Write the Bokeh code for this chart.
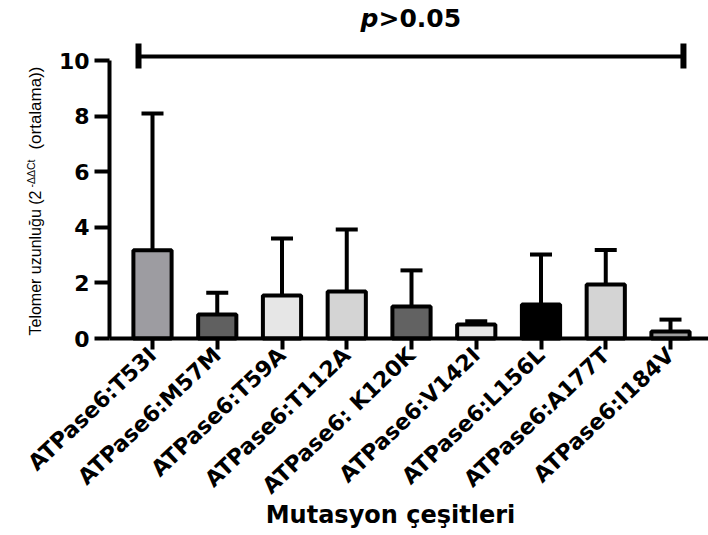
import math
from bokeh.plotting import figure
from bokeh.models import Range1d, FixedTicker, Label
from bokeh.embed import file_html
from bokeh.resources import INLINE

# ---- data ----
categories = ["ATPase6:T53I", "ATPase6:M57M", "ATPase6:T59A", "ATPase6:T112A",
              "ATPase6: K120K", "ATPase6:V142I", "ATPase6:L156L", "ATPase6:A177T",
              "ATPase6:I184V"]
means = [3.17, 0.86, 1.55, 1.69, 1.15, 0.50, 1.22, 1.94, 0.25]
upper = [8.09, 1.65, 3.60, 3.92, 2.45, 0.62, 3.02, 3.18, 0.68]
fills = ["#9d9ca1", "#606060", "#e6e6e6", "#d4d4d4", "#626262",
         "#e6e6e6", "#000000", "#d4d4d4", "#9d9d9d"]
y_ticks = [0, 2, 4, 6, 8, 10]
p_text = ">0.05"
x_title = "Mutasyon çeşitleri"
y_title_main = "Telomer uzunluğu (2"
y_title_sup = "-ΔΔCt"
y_title_end = "(ortalama))"

# ---- pixel geometry of the canvas ----
W, H = 708, 535
PX_PER_CAT = 64.75
PX_PER_Y = 27.8
FIRST_CENTER_PX = 152
BASE_PX = 338
AXIS_X_PX = 109

def dx(px):
    return (px - FIRST_CENTER_PX) / PX_PER_CAT

def dy(py):
    return (BASE_PX - py) / PX_PER_Y

xs = list(range(len(categories)))

p = figure(width=W, height=H, output_backend="svg", toolbar_location=None,
           x_range=Range1d(dx(0), dx(W)), y_range=Range1d(dy(H), dy(0)),
           min_border_left=0, min_border_right=0,
           min_border_top=0, min_border_bottom=0)
p.outline_line_color = None
p.xgrid.grid_line_color = None
p.ygrid.grid_line_color = None
p.background_fill_color = "white"
p.border_fill_color = "white"

# bars
p.vbar(x=xs, top=means, bottom=0, width=0.59, fill_color=fills,
       line_color="black", line_width=4)

# error bars (upper only)
p.segment(x0=xs, y0=means, x1=xs, y1=upper, line_color="black", line_width=4)
cap = 0.17
p.segment(x0=[x - cap for x in xs], y0=upper, x1=[x + cap for x in xs], y1=upper,
          line_color="black", line_width=4)

# significance bracket across all groups
bl, br = xs[0] - 0.216, xs[-1] + 0.2
by = 10.14
p.segment(x0=[bl], y0=[by], x1=[br], y1=[by], line_color="black", line_width=4)
p.segment(x0=[bl, br], y0=[by - 0.43, by - 0.43], x1=[bl, br], y1=[by + 0.47, by + 0.47],
          line_color="black", line_width=6)

# p-value text
split_x = dx(378)
p.add_layout(Label(x=split_x, y=dy(18), text="p", text_font="DejaVu Sans",
                   text_font_style="bold italic", text_font_size="25px",
                   text_align="right", text_baseline="middle", text_color="black"))
p.add_layout(Label(x=split_x, y=dy(18), text=p_text, text_font="DejaVu Sans",
                   text_font_style="bold", text_font_size="25px",
                   text_align="left", text_baseline="middle", text_color="black"))

# axes, drawn at fixed data locations
xa = p.xaxis[0]
xa.fixed_location = 0
xa.bounds = (dx(AXIS_X_PX), dx(W))
xa.ticker = FixedTicker(ticks=xs)
xa.major_label_overrides = {i: c for i, c in enumerate(categories)}
xa.major_label_orientation = 0.76
xa.major_label_text_font = "DejaVu Sans"
xa.major_label_text_font_style = "bold"
xa.major_label_text_font_size = "22px"
xa.major_label_text_color = "black"
xa.major_label_standoff = 2
xa.axis_line_width = 4
xa.axis_line_color = "black"
xa.major_tick_line_width = 4
xa.major_tick_out = 11
xa.major_tick_in = 0
xa.minor_tick_line_color = None

ya = p.yaxis[0]
ya.fixed_location = dx(AXIS_X_PX)
ya.ticker = FixedTicker(ticks=y_ticks)
ya.bounds = (0, 10)
ya.major_label_text_font = "DejaVu Sans"
ya.major_label_text_font_style = "bold"
ya.major_label_text_font_size = "22px"
ya.major_label_text_color = "black"
ya.major_label_standoff = 5
ya.axis_line_width = 4
ya.axis_line_color = "black"
ya.major_tick_line_width = 4
ya.major_tick_out = 15
ya.major_tick_in = 0
ya.minor_tick_line_color = None

# x-axis title
p.add_layout(Label(x=dx(390), y=dy(514), text=x_title, text_font="DejaVu Sans",
                   text_font_style="bold", text_font_size="24px",
                   text_align="center", text_baseline="middle", text_color="black"))

# y-axis title (rotated, with superscript)
yfont = "Liberation Sans"
p.add_layout(Label(x=dx(35), y=dy(335), text=y_title_main, angle=math.pi / 2,
                   text_font=yfont, text_font_size="16px", text_align="left",
                   text_baseline="middle", text_color="black"))
p.add_layout(Label(x=dx(30), y=dy(187), text=y_title_sup, angle=math.pi / 2,
                   text_font=yfont, text_font_size="10.5px", text_align="left",
                   text_baseline="middle", text_color="black"))
p.add_layout(Label(x=dx(35), y=dy(66), text=y_title_end, angle=math.pi / 2,
                   text_font=yfont, text_font_size="17px", text_align="right",
                   text_baseline="middle", text_color="black"))

open("out.html", "w").write(file_html(p, INLINE))
